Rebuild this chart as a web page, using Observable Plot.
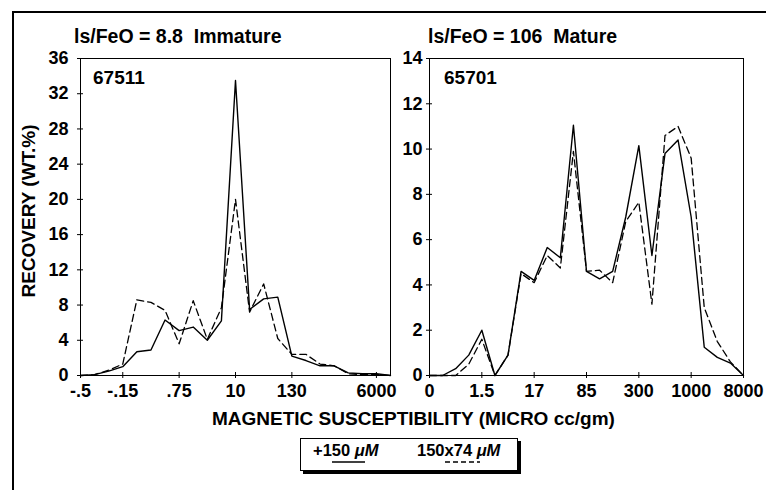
<!DOCTYPE html>
<html><head><meta charset="utf-8">
<script src="https://cdn.jsdelivr.net/npm/d3@7"></script>
<script src="https://cdn.jsdelivr.net/npm/@observablehq/plot@0.6"></script>
<style>
body{margin:0;background:#fff;}
#root{position:relative;width:766px;height:490px;overflow:hidden;background:#fff;font-family:"Liberation Sans",Arial,sans-serif;font-weight:bold;color:#000;}
.t{position:absolute;white-space:pre;line-height:1;}
.p{position:absolute;top:0;}
</style></head><body><div id="root"></div>
<script>
// ---- data ----
const leftTickIndex = [0, 3, 7, 11, 15, 21];
const leftTickLabels = ["-.5", "-.15", ".75", "10", "130", "6000"];
const leftSolid  = [0, 0.1, 0.5, 1.0, 2.7, 2.9, 6.3, 5.1, 5.5, 4.0, 6.2, 33.5, 7.5, 8.7, 8.9, 2.2, 1.7, 1.1, 1.1, 0.3, 0.2, 0.2, 0];
const leftDashed = [0, 0.1, 0.6, 1.3, 8.6, 8.3, 7.4, 3.6, 8.5, 4.1, 7.7, 20.0, 7.2, 10.4, 4.2, 2.4, 2.4, 1.3, 1.1, 0.2, 0.1, 0.1, 0];
const leftYTicks = [0, 4, 8, 12, 16, 20, 24, 28, 32, 36];

const rightTickIndex = [0, 4, 8, 12, 16, 20, 24];
const rightTickLabels = ["0", "1.5", "17", "85", "300", "1000", "8000"];
const rightSolid  = [0, 0, 0.3, 0.9, 2.0, 0, 0.9, 4.6, 4.2, 5.65, 5.2, 11.05, 4.6, 4.27, 4.6, 7.0, 10.15, 5.3, 9.8, 10.4, 7.0, 1.25, 0.8, 0.55, 0];
const rightDashed = [0, 0, 0, 0.5, 1.6, 0, 0.9, 4.5, 4.1, 5.3, 4.75, 9.9, 4.6, 4.65, 4.1, 6.8, 7.65, 3.15, 10.6, 11.0, 9.6, 3.0, 1.5, 0.6, 0];
const rightYTicks = [0, 2, 4, 6, 8, 10, 12, 14];

const panelTitles = ["ls/FeO = 8.8  Immature", "ls/FeO = 106  Mature"];
const sampleIds = ["67511", "65701"];
const seriesNames = ["+150 ", "150x74 "];
const yLabel = "RECOVERY (WT.%)";
const xLabel = "MAGNETIC SUSCEPTIBILITY (MICRO cc/gm)";

// ---- drawing ----
const root = document.getElementById("root");
const FONT = '"Liberation Sans", Arial, sans-serif';

function panel(solid, dashed, tickIndex, tickLabels, yTicks, width, marginLeft, marginRight, tickPadding) {
  const rows = arr => arr.map((v, i) => ({i, v}));
  const svg = Plot.plot({
    width, height: 400,
    marginLeft, marginRight, marginTop: 58, marginBottom: 25,
    style: {background: "transparent", fontFamily: FONT, fontWeight: "bold", fontSize: "18px", color: "#000"},
    x: {domain: [0, solid.length - 1]},
    y: {domain: [0, yTicks[yTicks.length - 1]]},
    marks: [
      Plot.frame({stroke: "#000", strokeWidth: 1}),
      Plot.axisY({ticks: yTicks, tickSize: 3, tickPadding, label: null, fontSize: 18, fontWeight: "bold"}),
      Plot.axisX({ticks: tickIndex, tickSize: 3, tickPadding: 6, label: null, fontSize: 18, fontWeight: "bold",
                  tickFormat: d => tickLabels[tickIndex.indexOf(d)]}),
      Plot.line(rows(solid), {x: "i", y: "v", stroke: "#000", strokeWidth: 1.4}),
      Plot.line(rows(dashed), {x: "i", y: "v", stroke: "#000", strokeWidth: 1.3, strokeDasharray: "7,4"})
    ]
  });
  const s = d3.select(svg);
  s.selectAll('g[aria-label="y-axis tick"] path').attr("d", "M-3,0L3,0");
  s.selectAll('g[aria-label="x-axis tick"] path').attr("d", "M0,-3L0,3");
  return svg;
}

const left = panel(leftSolid, leftDashed, leftTickIndex, leftTickLabels, leftYTicks, 400, 80, 10, 9);
left.classList.add("p"); left.style.left = "0px";
root.appendChild(left);
const right = panel(rightSolid, rightDashed, rightTickIndex, rightTickLabels, rightYTicks, 366, 29, 23, 4);
right.classList.add("p"); right.style.left = "400px";
root.appendChild(right);

function txt(s, x, y, size, extra) {
  const d = document.createElement("div");
  d.className = "t";
  d.textContent = s;
  d.style.left = x + "px";
  d.style.top = (y - size / 2) + "px";
  d.style.fontSize = size + "px";
  if (extra) Object.assign(d.style, extra);
  root.appendChild(d);
  return d;
}
function box(x, y, w, h, extra) {
  const d = document.createElement("div");
  d.style.position = "absolute";
  d.style.left = x + "px"; d.style.top = y + "px";
  d.style.width = w + "px"; d.style.height = h + "px";
  Object.assign(d.style, extra || {});
  root.appendChild(d);
  return d;
}

// outer figure border
box(12, 11, 754, 2, {background: "#000"});
box(12, 11, 2, 479, {background: "#000"});

txt(panelTitles[0], 74, 37, 19.5);
txt(panelTitles[1], 428, 37, 19.5);
txt(sampleIds[0], 93, 77, 19);
txt(sampleIds[1], 444, 77, 19);

// y axis label (rotated)
const yl = txt(yLabel, 0, 0, 19, {transform: "translate(-50%,-50%) rotate(-90deg)", transformOrigin: "center"});
yl.style.left = "28px"; yl.style.top = "211px";

txt(xLabel, 212, 418, 19);

// legend
box(300, 438, 216, 31, {border: "1.5px solid #000", boxShadow: "3px 3px 0 #000", background: "#fff"});
function legendItem(name, x, lx, lw, dashed) {
  const d = txt("", x, 450, 16.5);
  d.appendChild(document.createTextNode(name));
  const mu = document.createElement("i");
  mu.textContent = "\u03bcM";
  d.appendChild(mu);
  const svgns = "http://www.w3.org/2000/svg";
  const sv = document.createElementNS(svgns, "svg");
  sv.setAttribute("width", lw); sv.setAttribute("height", 4);
  sv.style.position = "absolute"; sv.style.left = lx + "px"; sv.style.top = "460px";
  const ln = document.createElementNS(svgns, "line");
  ln.setAttribute("x1", 0); ln.setAttribute("x2", lw);
  ln.setAttribute("y1", 2); ln.setAttribute("y2", 2);
  ln.setAttribute("stroke", "#000"); ln.setAttribute("stroke-width", 1.4);
  if (dashed) ln.setAttribute("stroke-dasharray", "5,3");
  sv.appendChild(ln);
  root.appendChild(sv);
}
legendItem(seriesNames[0], 313, 332, 33, false);
legendItem(seriesNames[1], 417, 445, 35, true);
</script>
</body></html>
